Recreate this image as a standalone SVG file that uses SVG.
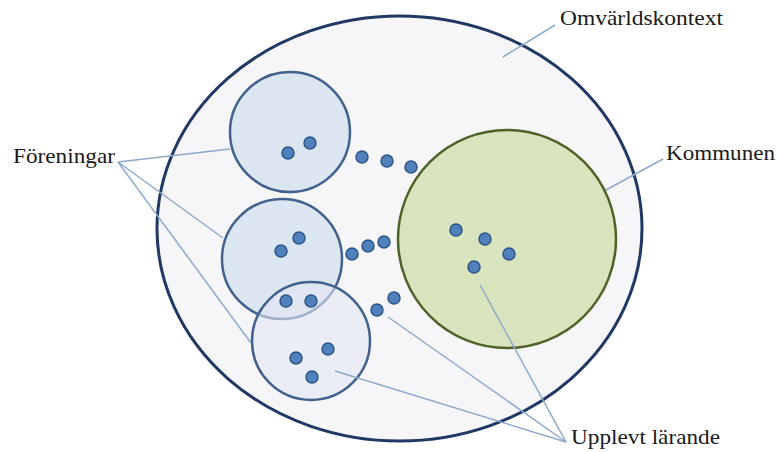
<svg xmlns="http://www.w3.org/2000/svg" width="778" height="452" viewBox="0 0 778 452">
<style>
.lbl{font-family:"Liberation Serif","DejaVu Serif",serif;font-size:22px;fill:#1a1a1a}
.lead{stroke:#8eaacb;stroke-width:1.5;fill:none}
.forening{fill:#dce6f1;stroke:#41628e;stroke-width:2.5}
.dot{fill:#4f81bd;stroke:#2e5489;stroke-width:1.5}
</style>
<rect width="778" height="452" fill="#ffffff"/>
<g id="omvarld">
<ellipse cx="399.5" cy="228.5" rx="242.5" ry="212.5" fill="#f6f6f8" stroke="#1f3864" stroke-width="3"/>
</g>
<g id="kommunen">
<circle cx="507" cy="239" r="109" fill="#d7e4bd" stroke="#4f6228" stroke-width="2.5"/>
</g>
<g id="forening1">
<circle class="forening" cx="290" cy="132" r="60"/>
</g>
<g id="forening2">
<circle class="forening" cx="282" cy="259" r="60"/>
</g>
<g id="forening3">
<circle cx="311" cy="341" r="59" fill="#e3e8f4" fill-opacity="0.6" stroke="#41628e" stroke-width="2.5"/>
</g>
<g id="dots">
<circle class="dot" cx="288" cy="153" r="6"/>
<circle class="dot" cx="310" cy="143" r="6"/>
<circle class="dot" cx="362" cy="157" r="6"/>
<circle class="dot" cx="387" cy="161" r="6"/>
<circle class="dot" cx="411" cy="167" r="6"/>
<circle class="dot" cx="281" cy="251" r="6"/>
<circle class="dot" cx="299" cy="238" r="6"/>
<circle class="dot" cx="352" cy="254" r="6"/>
<circle class="dot" cx="368" cy="246" r="6"/>
<circle class="dot" cx="384" cy="242" r="6"/>
<circle class="dot" cx="286" cy="301" r="6"/>
<circle class="dot" cx="311" cy="301" r="6"/>
<circle class="dot" cx="377" cy="310" r="6"/>
<circle class="dot" cx="394" cy="298" r="6"/>
<circle class="dot" cx="296" cy="358" r="6"/>
<circle class="dot" cx="328" cy="349" r="6"/>
<circle class="dot" cx="312" cy="377" r="6"/>
<circle class="dot" cx="456" cy="230" r="6"/>
<circle class="dot" cx="485" cy="239" r="6"/>
<circle class="dot" cx="509" cy="254" r="6"/>
<circle class="dot" cx="474" cy="267" r="6"/>
</g>
<g id="connectors">
<line class="lead" x1="118" y1="162" x2="230" y2="149"/>
<line class="lead" x1="118" y1="162" x2="223" y2="238"/>
<line class="lead" x1="118" y1="162" x2="251" y2="343"/>
<line class="lead" x1="555" y1="25" x2="503" y2="57"/>
<line class="lead" x1="663" y1="159" x2="606" y2="190"/>
<line class="lead" x1="566" y1="442" x2="480" y2="285"/>
<line class="lead" x1="566" y1="442" x2="388" y2="317"/>
<line class="lead" x1="566" y1="442" x2="335" y2="371"/>
</g>
<g id="labels">
<text class="lbl" x="560" y="25" textLength="163" lengthAdjust="spacingAndGlyphs">Omvärldskontext</text>
<text class="lbl" x="666" y="160" textLength="109" lengthAdjust="spacingAndGlyphs">Kommunen</text>
<text class="lbl" x="13" y="163" textLength="102" lengthAdjust="spacingAndGlyphs">Föreningar</text>
<text class="lbl" x="571" y="444" textLength="149" lengthAdjust="spacingAndGlyphs">Upplevt lärande</text>
</g>
</svg>
